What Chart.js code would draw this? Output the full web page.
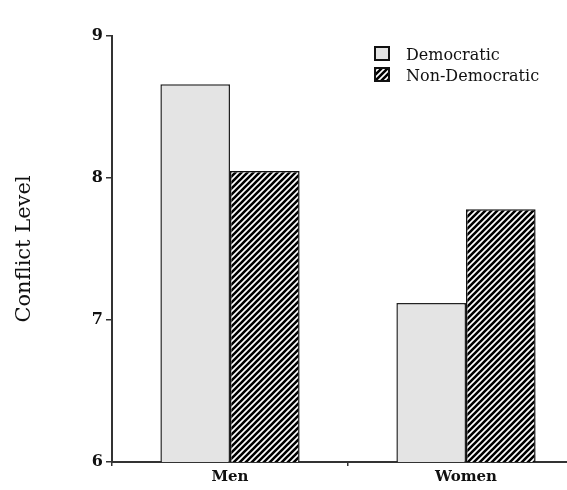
<!DOCTYPE html>
<html>
<head>
<meta charset="utf-8">
<script src="https://cdn.jsdelivr.net/npm/chart.js@4.4.1/dist/chart.umd.min.js"></script>
<style>
html,body{margin:0;padding:0;background:#fff;overflow:hidden;}
#wrap{width:600px;height:490px;position:relative;}
</style>
</head>
<body>
<div id="wrap"><canvas id="c" width="600" height="490"></canvas></div>
<script>
const categories = ["Men", "Women"];
const seriesNames = ["Democratic", "Non-Democratic"];
const democratic = [8.66, 7.12];
const nonDemocratic = [8.05, 7.78];
const yTicks = [6, 7, 8, 9];
const yTitle = "Conflict Level";

function makeHatch() {
  const s = 6;
  const cv = document.createElement('canvas');
  cv.width = s; cv.height = s;
  const g = cv.getContext('2d');
  g.fillStyle = '#fff';
  g.fillRect(0, 0, s, s);
  g.strokeStyle = '#000';
  g.lineWidth = 2.6;
  g.beginPath();
  g.moveTo(-1, s + 1); g.lineTo(s + 1, -1);
  g.moveTo(-1, 1); g.lineTo(1, -1);
  g.moveTo(s - 1, s + 1); g.lineTo(s + 1, s - 1);
  g.stroke();
  return g.createPattern(cv, 'repeat');
}
const hatch = makeHatch();
const serif = "'DejaVu Serif', serif";

const legendPlugin = {
  id: 'boxLegend',
  afterDraw(chart) {
    const ctx = chart.ctx;
    const items = chart.data.datasets;
    ctx.save();
    items.forEach((ds, i) => {
      const y = 47 + i * 21;
      ctx.fillStyle = ds.backgroundColor;
      ctx.fillRect(375, y, 14, 13);
      ctx.strokeStyle = '#111';
      ctx.lineWidth = 2;
      ctx.strokeRect(375, y, 14, 13);
      ctx.fillStyle = '#111';
      ctx.font = "16px " + serif;
      ctx.textBaseline = 'alphabetic';
      ctx.textAlign = 'left';
      ctx.fillText(ds.label, 406, y + 13);
    });
    ctx.restore();
  }
};

new Chart(document.getElementById('c'), {
  type: 'bar',
  data: {
    labels: categories,
    datasets: [
      { label: seriesNames[0], data: democratic, backgroundColor: '#e4e4e4', borderColor: '#222', borderWidth: 1.5 },
      { label: seriesNames[1], data: nonDemocratic, backgroundColor: hatch, borderColor: '#111', borderWidth: 1.5 }
    ]
  },
  options: {
    responsive: false,
    animation: false,
    layout: { padding: { top: 36, right: 16, left: 0, bottom: 0 } },
    categoryPercentage: 0.59,
    barPercentage: 1.0,
    plugins: { legend: { display: false }, tooltip: { enabled: false } },
    scales: {
      x: {
        offset: true,
        afterFit(s) { s.height = 28; },
        border: { display: true, color: '#333', width: 2 },
        grid: { display: true, drawOnChartArea: false, tickLength: 4, color: '#333', lineWidth: 1.5, offset: true },
        ticks: { color: '#111', font: { family: serif, size: 15, weight: 'bold' }, padding: 2 }
      },
      y: {
        min: 6, max: 9,
        afterFit(s) { s.width = 112; },
        afterBuildTicks(s) { s.ticks = yTicks.map(v => ({ value: v })); },
        border: { display: true, color: '#333', width: 2 },
        grid: { display: true, drawOnChartArea: false, tickLength: 6, color: '#333', lineWidth: 1.5 },
        ticks: { color: '#111', font: { family: serif, size: 16, weight: 'bold' }, padding: 3 },
        title: { display: true, text: yTitle, color: '#111', font: { family: serif, size: 21 }, padding: { top: 12, bottom: 0 } }
      }
    }
  },
  plugins: [legendPlugin]
});
</script>
</body>
</html>
